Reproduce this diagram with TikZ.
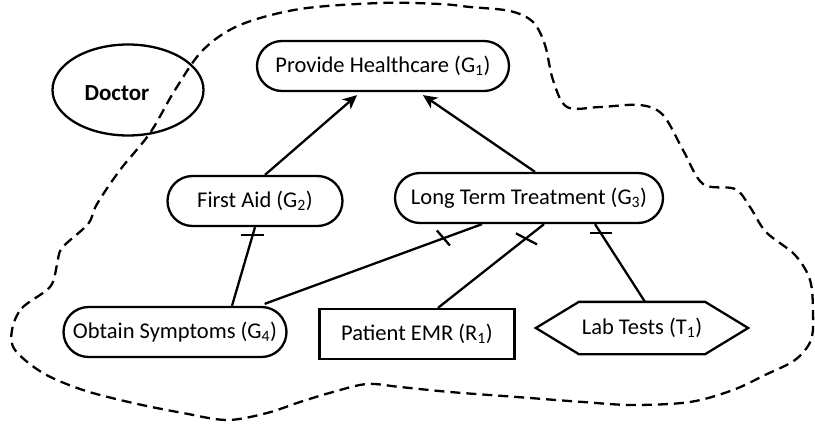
\documentclass[tikz,border=0pt]{standalone}
\usepackage{fontspec}
\setmainfont{Carlito}
\usetikzlibrary{calc,arrows.meta,shapes.geometric}
\begin{document}
\begin{tikzpicture}[x=1pt,y=-1pt,line width=2.3pt,
  txt/.style={font=\fontsize{22.5}{26}\selectfont, inner sep=0pt},
  goal/.style={txt, draw, rectangle, rounded corners=25pt, minimum height=50pt},
  res/.style={txt, draw, rectangle, minimum height=50pt},
  conn/.style={line width=2.3pt},
  contrib/.style={conn, -{Stealth[length=14pt,width=13pt,inset=4pt]}},
  barmark/.style={line width=2.3pt},
  boundary/.style={line width=2.3pt, dash pattern=on 10pt off 6pt}]
\useasboundingbox (0,0) rectangle (815,426);

% actor boundary
\draw[boundary] plot[smooth cycle, tension=0.55] coordinates {
 (12,330) (22,308) (50,287) (57,265) (62,248) (88,224) (97,204) (120,170)
 (150,133) (175,90) (203,50) (240,25) (300,9) (380,3) (440,4) (470,7)
 (510,11) (533,22) (545,45) (553,80) (567,107) (600,107) (640,105) (663,115)
 (683,150) (703,184) (735,189) (750,207) (766,232) (795,255) (810,280)
 (813,312) (811,340) (795,360) (765,375) (733,390) (690,402) (633,405)
 (583,402) (517,397) (450,392) (400,387) (367,384) (333,392) (300,402)
 (267,413) (227,420) (183,413) (133,403) (83,390) (43,373) (15,350)};

% actor
\node[draw, ellipse, minimum width=151pt, minimum height=91pt, inner sep=0pt] (doc) at (128,90) {};
\node[txt, font=\fontsize{23}{26}\selectfont\bfseries] (doclabel) at ($(doc.center)+(-11,3)$) {Doctor};

% goals
\node[goal, minimum width=252pt] (g1) at (383,66) {Provide Healthcare (G\textsubscript{1})};
\node[goal, minimum width=175pt] (g2) at (255,201) {First Aid (G\textsubscript{2})};
\node[goal, minimum width=268pt] (g3) at (529,198) {Long Term Treatment (G\textsubscript{3})};
\node[goal, minimum width=223pt] (g4) at (175,332) {Obtain Symptoms (G\textsubscript{4})};

% resource
\node[res, minimum width=195pt] (r1) at (417,334) {Patient EMR (R\textsubscript{1})};

% task (hexagon)
\node[txt, minimum width=124pt, minimum height=50pt] (t1) at (642,328) {Lab Tests (T\textsubscript{1})};
\draw (t1.north west) -- (t1.north east) -- ($(t1.east)+(43,0)$) -- (t1.south east)
      -- (t1.south west) -- ($(t1.west)+(-43,0)$) -- cycle;

% contributions
\draw[contrib] ($(g2.north)+(10,0)$) -- ($(g1.south)+(-26,3)$);
\draw[contrib] ($(g3.north)+(6,0)$) -- ($(g1.south)+(40,3)$);

% decompositions
\coordinate (a1) at ($(g4.north)+(57,0)$);
\coordinate (b1) at ($(g2.south)+(0,0)$);
\draw[conn] (a1) -- (b1);
\draw[barmark] ($(b1)!0.1!(a1)+(-12,0)$) -- ($(b1)!0.1!(a1)+(11,0)$);

\coordinate (a2) at ($(g4.north east)+(-23,-2)$);
\coordinate (b2) at ($(g3.south)+(-47,0)$);
\draw[conn] (a2) -- (b2);
\draw[barmark] ($(b2)!0.18!(a2)+(-6,-8)$) -- ($(b2)!0.18!(a2)+(7,7)$);

\coordinate (a3) at ($(r1.north)+(21,0)$);
\coordinate (b3) at ($(g3.south)+(15,0)$);
\draw[conn] (a3) -- (b3);
\draw[barmark] ($(b3)!0.17!(a3)+(-10,-5)$) -- ($(b3)!0.17!(a3)+(11,6)$);

\coordinate (a4) at ($(t1.north)+(3,0)$);
\coordinate (b4) at ($(g3.south)+(66,0)$);
\draw[conn] (a4) -- (b4);
\draw[barmark] ($(b4)!0.11!(a4)+(-11,0)$) -- ($(b4)!0.11!(a4)+(11,0)$);
\end{tikzpicture}
\end{document}
